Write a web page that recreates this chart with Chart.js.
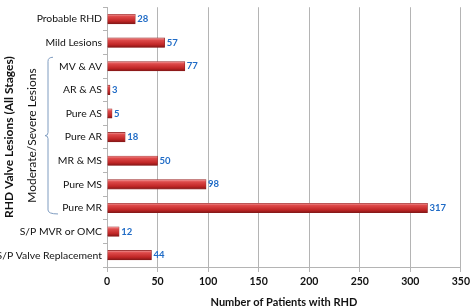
<!DOCTYPE html>
<html lang="en">
<head>
  <meta charset="UTF-8">
  <title>RHD Valve Lesions</title>
  <script src="https://cdn.jsdelivr.net/npm/chart.js"></script>
  <style>
    body { margin: 0; background: #fff; }
  </style>
</head>
<body>
  <canvas id="rhdChart" width="473" height="307"></canvas>

  <script>
    const categories = [
      "Probable RHD", "Mild Lesions", "MV & AV", "AR & AS", "Pure AS", "Pure AR",
      "MR & MS", "Pure MS", "Pure MR", "S/P MVR or OMC", "S/P Valve Replacement"
    ];
    const patients = [28, 57, 77, 3, 5, 18, 50, 98, 317, 12, 44];
    const xTicks = [0, 50, 100, 150, 200, 250, 300, 350];

    const FONT = "Lato, 'Open Sans', sans-serif";

    // red "cylinder" look for each bar
    function barFill(c) {
      const chart = c.chart;
      const ys = chart.scales && chart.scales.y;
      if (!ys || c.dataIndex == null) return "#c62828";
      const py = ys.getPixelForValue(c.dataIndex);
      if (!Number.isFinite(py)) return "#c62828";
      const g = chart.ctx.createLinearGradient(0, py - 5, 0, py + 5);
      g.addColorStop(0, "#f2a5a5");
      g.addColorStop(0.25, "#de4a4a");
      g.addColorStop(0.7, "#c02626");
      g.addColorStop(1, "#7e1414");
      return g;
    }

    const valueLabels = {
      id: "valueLabels",
      afterDatasetsDraw(chart) {
        const ctx = chart.ctx;
        const meta = chart.getDatasetMeta(0);
        ctx.save();
        ctx.font = "bold 9.5px " + FONT;
        ctx.fillStyle = "#1f6bc6";
        ctx.textAlign = "left";
        ctx.textBaseline = "middle";
        meta.data.forEach((el, i) => {
          ctx.fillText(String(patients[i]), el.x + 2, el.y);
        });
        ctx.restore();
      }
    };

    // bracket + "Moderate/Severe Lesions" group label
    const groupBracket = {
      id: "groupBracket",
      afterDraw(chart) {
        const ctx = chart.ctx;
        const ys = chart.scales.y;
        const top = ys.getPixelForValue(2) - 9;
        const bot = ys.getPixelForValue(8) + 6;
        const mid = (top + bot) / 2;
        const x = 48;
        ctx.save();
        ctx.strokeStyle = "#7f9cc0";
        ctx.lineWidth = 1;
        ctx.beginPath();
        ctx.moveTo(53, top);
        ctx.quadraticCurveTo(x, top, x, top + 4);
        ctx.lineTo(x, mid - 3);
        ctx.quadraticCurveTo(x, mid, x - 3, mid);
        ctx.quadraticCurveTo(x, mid, x, mid + 3);
        ctx.lineTo(x, bot - 4);
        ctx.quadraticCurveTo(x, bot, 58, bot);
        ctx.stroke();

        ctx.translate(32, mid);
        ctx.rotate(-Math.PI / 2);
        ctx.font = "12px " + FONT;
        ctx.fillStyle = "#111";
        ctx.textAlign = "center";
        ctx.textBaseline = "middle";
        ctx.fillText("Moderate/Severe Lesions", 0, 0);
        ctx.restore();
      }
    };

    new Chart(document.getElementById("rhdChart"), {
      type: "bar",
      data: {
        labels: categories,
        datasets: [{
          data: patients,
          backgroundColor: barFill,
          borderColor: "#8a1c1c",
          borderWidth: 0.6,
          barThickness: 9.5
        }]
      },
      options: {
        indexAxis: "y",
        responsive: false,
        animation: false,
        layout: { padding: { left: 0, right: 10, top: 0, bottom: 0 } },
        plugins: {
          legend: { display: false },
          tooltip: { enabled: false }
        },
        scales: {
          x: {
            min: 0,
            max: 350,
            afterBuildTicks(scale) { scale.ticks = xTicks.map(v => ({ value: v })); },
            afterFit(scale) { scale.height = 40; },
            grid: { color: "#b4b4b4", tickLength: 5 },
            border: { color: "#b4b4b4" },
            ticks: { color: "#111", font: { family: FONT, size: 10.5, weight: "bold" }, padding: 3 },
            title: {
              display: true,
              text: "Number of Patients with RHD",
              color: "#111",
              font: { family: FONT, size: 11, weight: "bold" },
              padding: { top: 0, bottom: -2 }
            }
          },
          y: {
            afterFit(scale) { scale.width = 107; },
            grid: { drawOnChartArea: false, color: "#b4b4b4", tickLength: 4 },
            border: { color: "#b4b4b4" },
            ticks: { color: "#111", font: { family: FONT, size: 10.4 }, padding: 1, autoSkip: false },
            title: {
              display: true,
              text: "RHD Valve Lesions (All Stages)",
              color: "#111",
              font: { family: FONT, size: 12, weight: "bold" },
              padding: { top: 2, bottom: 0 }
            }
          }
        }
      },
      plugins: [valueLabels, groupBracket]
    });
  </script>
</body>
</html>
